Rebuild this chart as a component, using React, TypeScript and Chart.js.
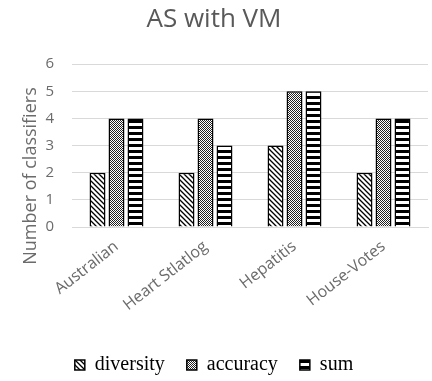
import React, { useEffect, useRef } from 'react';
import { Chart, registerables } from 'chart.js';

Chart.register(...registerables);

const categories = ['Australian', 'Heart Stlatlog', 'Hepatitis', 'House-Votes'];
const diversityValues = [2, 2, 3, 2];
const accuracyValues = [4, 4, 5, 4];
const sumValues = [4, 3, 5, 4];
const seriesNames = ['diversity', 'accuracy', 'sum'];
const chartTitle = 'AS with VM';
const yAxisTitle = 'Number of classifiers';

function makePattern(kind: string): CanvasPattern | string {
  const c = document.createElement('canvas');
  const ctx = c.getContext('2d');
  if (!ctx) return '#888';
  if (kind === 'diag') {
    const s = 5;
    c.width = s; c.height = s;
    ctx.fillStyle = '#fff';
    ctx.fillRect(0, 0, s, s);
    ctx.strokeStyle = '#000';
    ctx.lineWidth = 1.3;
    ctx.beginPath();
    ctx.moveTo(-1, -1); ctx.lineTo(s + 1, s + 1);
    ctx.moveTo(-1, s - 1); ctx.lineTo(1, s + 1);
    ctx.moveTo(s - 1, -1); ctx.lineTo(s + 1, 1);
    ctx.stroke();
  } else if (kind === 'dots') {
    c.width = 2; c.height = 2;
    ctx.fillStyle = '#fff';
    ctx.fillRect(0, 0, 2, 2);
    ctx.fillStyle = '#222';
    ctx.fillRect(0, 0, 1, 1);
    ctx.fillRect(1, 1, 1, 1);
  } else {
    c.width = 4; c.height = 6;
    ctx.fillStyle = '#fff';
    ctx.fillRect(0, 0, 4, 6);
    ctx.fillStyle = '#000';
    ctx.fillRect(0, 0, 4, 3);
  }
  return ctx.createPattern(c, 'repeat') || '#888';
}

const yTitlePlugin = {
  id: 'yTitlePlugin',
  afterDraw(chart: any) {
    const ctx = chart.ctx;
    ctx.save();
    ctx.translate(31, 176);
    ctx.rotate(-Math.PI / 2);
    ctx.font = '18px "Open Sans"';
    ctx.fillStyle = '#6b6b6b';
    ctx.textAlign = 'center';
    ctx.textBaseline = 'middle';
    ctx.fillText(yAxisTitle, 0, 0);
    ctx.restore();
  },
};

export default function App() {
  const canvasRef = useRef<HTMLCanvasElement | null>(null);

  useEffect(() => {
    document.body.style.margin = '0';
    const canvas = canvasRef.current;
    if (!canvas) return;
    const patterns = [makePattern('diag'), makePattern('dots'), makePattern('hstripe')];
    const values = [diversityValues, accuracyValues, sumValues];
    const chart = new Chart(canvas, {
      type: 'bar',
      data: {
        labels: categories,
        datasets: seriesNames.map((name, i) => ({
          label: name,
          data: values[i],
          backgroundColor: patterns[i] as any,
          borderColor: '#000',
          borderWidth: 1.5,
          categoryPercentage: 0.64,
          barPercentage: 0.84,
        })),
      },
      options: {
        responsive: false,
        animation: false,
        layout: { padding: { left: 0, right: 4, top: 0, bottom: -4 } },
        plugins: {
          title: {
            display: true,
            text: chartTitle,
            color: '#595959',
            font: { family: '"Open Sans"', size: 26, weight: 'normal' },
            padding: { top: 4, bottom: 29 },
          },
          legend: {
            display: true,
            position: 'bottom',
            labels: {
              boxWidth: 10,
              boxHeight: 10,
              padding: 22,
              color: '#000',
              font: { family: '"Liberation Serif"', size: 20 },
            },
          },
          tooltip: { enabled: false },
        },
        scales: {
          x: {
            grid: { display: false },
            border: { display: true, color: '#d9d9d9' },
            ticks: {
              color: '#6b6b6b',
              font: { family: '"Open Sans"', size: 16 },
              minRotation: 38,
              maxRotation: 38,
              padding: 2,
            },
            afterFit(scale: any) {
              scale.height = 106;
            },
          },
          y: {
            min: 0,
            max: 6,
            ticks: {
              stepSize: 1,
              color: '#6b6b6b',
              font: { family: '"Open Sans"', size: 15 },
              padding: 18,
            },
            grid: { color: '#d9d9d9', drawTicks: false },
            border: { display: false },
            afterFit(scale: any) {
              scale.width = 72;
            },
          },
        },
      },
      plugins: [yTitlePlugin],
    });
    return () => chart.destroy();
  }, []);

  return (
    <div style={{ width: 432, height: 381, background: '#fff' }}>
      <canvas ref={canvasRef} width={432} height={381} style={{ display: 'block' }} />
    </div>
  );
}
